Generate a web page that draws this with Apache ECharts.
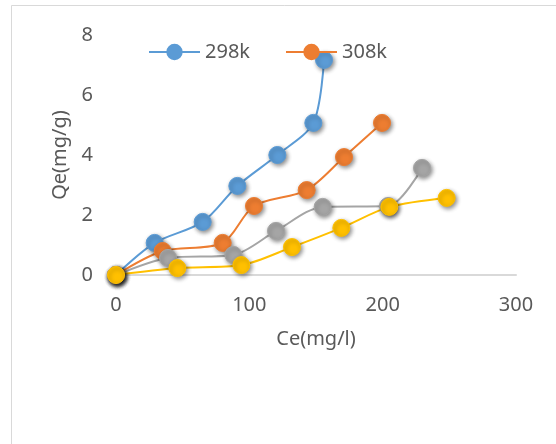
<!DOCTYPE html>
<html>
<head>
<meta charset="utf-8">
<script src="https://cdn.jsdelivr.net/npm/echarts@6/dist/echarts.min.js"></script>
<style>html,body{margin:0;padding:0;background:#fff}#c{width:556px;height:444px}</style>
</head>
<body>
<div id="c"></div>
<script>
// Data
const xTicks = [0, 100, 200, 300];
const yTicks = [0, 2, 4, 6, 8];
const seriesNames = ['298k', '308k', 'series3', 'series4'];
const legendNames = ['298k', '308k'];
const ce298 = [0, 29, 65, 91, 121, 148, 156];
const qe298 = [0, 1.07, 1.77, 2.97, 4.0, 5.07, 7.17];
const ce308 = [0, 35, 80, 103.5, 143, 171, 199.5];
const qe308 = [0, 0.8, 1.07, 2.3, 2.83, 3.93, 5.07];
const ce3 = [0, 39, 88, 120, 155, 204, 229.5];
const qe3 = [0, 0.57, 0.67, 1.47, 2.27, 2.3, 3.57];
const ce4 = [0, 46, 94, 132, 169, 205, 248];
const qe4 = [0, 0.23, 0.33, 0.93, 1.57, 2.27, 2.57];

const colors = ['#5B9BD5', '#ED7D31', '#A5A5A5', '#FFC000'];
const xs = [ce298, ce308, ce3, ce4];
const ys = [qe298, qe308, qe3, qe4];
const FONT = 'Noto Sans';
const TXT = '#595959';

const series = seriesNames.map((name, i) => ({
  name: name,
  type: 'line',
  smooth: 0.3,
  symbol: 'circle',
  symbolSize: 17,
  data: xs[i].map((x, j) => [x, ys[i][j]]),
  lineStyle: { color: colors[i], width: 2 },
  itemStyle: {
    color: colors[i],
    borderColor: colors[i],
    borderWidth: 1,
    shadowBlur: 4,
    shadowOffsetX: 1.5,
    shadowOffsetY: 2,
    shadowColor: 'rgba(0,0,0,0.45)'
  },
  emphasis: { disabled: true },
  animation: false
}));

const chart = echarts.init(document.getElementById('c'), null, { renderer: 'canvas' });
chart.setOption({
  backgroundColor: '#fff',
  animation: false,
  textStyle: { fontFamily: FONT },
  grid: { left: 116, right: 40, top: 35, bottom: 169, containLabel: false },
  legend: {
    data: legendNames,
    left: 148,
    top: 42,
    padding: 0,
    itemWidth: 51,
    itemHeight: 18,
    itemGap: 35,
    textStyle: { fontSize: 20, color: TXT, fontFamily: FONT }
  },
  graphic: [{
    type: 'rect',
    shape: { x: 11.5, y: 5.5, width: 600, height: 500 },
    style: { fill: 'none', stroke: '#D9D9D9', lineWidth: 1 },
    silent: true, z: -1
  }],
  xAxis: {
    type: 'value',
    min: xTicks[0],
    max: xTicks[xTicks.length - 1],
    interval: xTicks[1] - xTicks[0],
    name: 'Ce(mg/l)',
    nameLocation: 'middle',
    nameGap: 54,
    nameTextStyle: { fontSize: 20, color: TXT, fontFamily: FONT },
    axisLine: { show: true, lineStyle: { color: '#D9D9D9', width: 2 } },
    axisTick: { show: false },
    splitLine: { show: false },
    axisLabel: { margin: 20, fontSize: 20, color: TXT, fontFamily: FONT }
  },
  yAxis: {
    type: 'value',
    min: yTicks[0],
    max: yTicks[yTicks.length - 1],
    interval: yTicks[1] - yTicks[0],
    name: 'Qe(mg/g)',
    nameLocation: 'middle',
    nameGap: 44,
    nameTextStyle: { fontSize: 20, color: TXT, fontFamily: FONT },
    axisLine: { show: false },
    axisTick: { show: false },
    splitLine: { show: false },
    axisLabel: { margin: 23, fontSize: 20, color: TXT, fontFamily: FONT }
  },
  series: series
});
</script>
</body>
</html>
